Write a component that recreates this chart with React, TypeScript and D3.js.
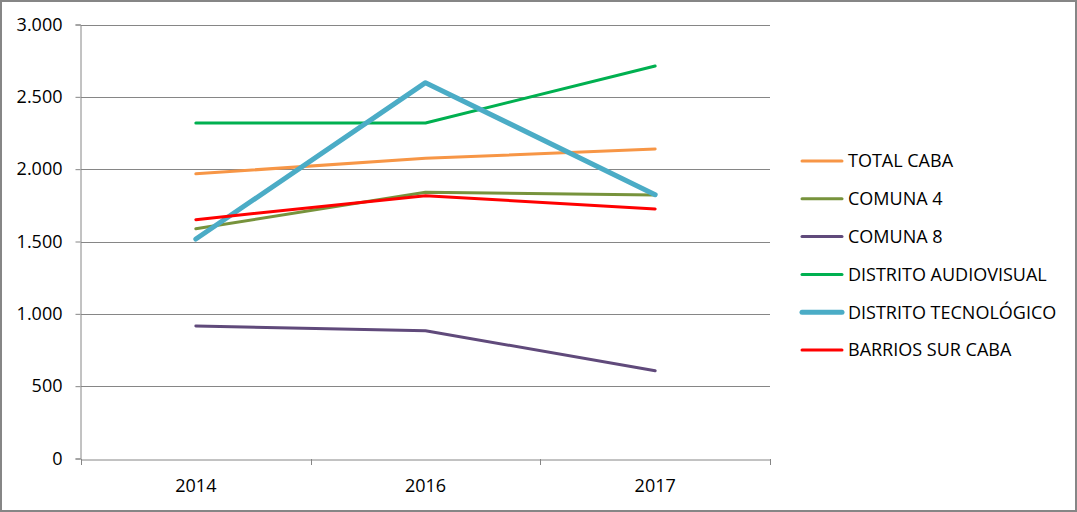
import { useEffect, useRef } from "react"
import * as d3 from "d3"

const years = ["2014", "2016", "2017"]
const seriesNames = [
  "TOTAL CABA",
  "COMUNA 4",
  "COMUNA 8",
  "DISTRITO AUDIOVISUAL",
  "DISTRITO TECNOLÓGICO",
  "BARRIOS SUR CABA",
]
const totalCaba = [1968, 2075, 2139]
const comuna4 = [1588, 1840, 1821]
const comuna8 = [916, 883, 607]
const distritoAudiovisual = [2319, 2319, 2713]
const distritoTecnologico = [1517, 2598, 1824]
const barriosSur = [1651, 1817, 1725]
const yTicks = [0, 500, 1000, 1500, 2000, 2500, 3000]

const colors = ["#F79646", "#77933C", "#604A7B", "#00B050", "#4BACC6", "#FF0000"]
const widths = [3, 3, 3, 3, 5, 3]

export default function App() {
  const svgRef = useRef<SVGSVGElement>(null)

  useEffect(() => {
    const width = 1077
    const height = 512
    const svg = d3.select(svgRef.current)
    svg.selectAll("*").remove()

    const margin = { top: 24.5, left: 81, right: 770, bottom: 458.5 }
    const font = "'Open Sans', 'Liberation Sans', sans-serif"

    // frame
    svg.append("rect").attr("width", width).attr("height", height).attr("fill", "#fff")
    svg.append("rect")
      .attr("x", 1).attr("y", 1)
      .attr("width", width - 2).attr("height", height - 2)
      .attr("fill", "none").attr("stroke", "#868686").attr("stroke-width", 2)

    const x = d3.scaleBand().domain(years).range([margin.left, margin.right])
    const y = d3.scaleLinear().domain([0, 3000]).range([margin.bottom, margin.top])

    // gridlines
    svg.append("g")
      .selectAll("line")
      .data(yTicks.filter((t) => t > 0))
      .join("line")
      .attr("x1", margin.left).attr("x2", margin.right)
      .attr("y1", (d) => Math.round(y(d)) + 0.5).attr("y2", (d) => Math.round(y(d)) + 0.5)
      .attr("stroke", "#868686")

    // y axis
    const yAxis = svg.append("g").attr("transform", `translate(${margin.left - 0.5},0)`)
      .call(d3.axisLeft(y).tickValues(yTicks).tickSize(5).tickPadding(13)
        .tickFormat((d) => d3.format(",")(d as number).replace(/,/g, ".")))
    yAxis.select(".domain").attr("stroke", "#868686")
    yAxis.selectAll(".tick line").attr("stroke", "#868686")
    yAxis.selectAll("text").attr("font-family", font).attr("font-size", 18).attr("fill", "#000")

    // x axis
    const xAxis = svg.append("g").attr("transform", `translate(0,${Math.round(margin.bottom) + 0.5})`)
      .call(d3.axisBottom(x).tickSize(0).tickPadding(20))
    xAxis.select(".domain").attr("stroke", "#868686")
    xAxis.selectAll("text").attr("font-family", font).attr("font-size", 18).attr("fill", "#000")
    svg.append("g")
      .selectAll("line")
      .data([...years.map((d) => x(d) as number), margin.right])
      .join("line")
      .attr("x1", (d) => Math.round(d) + 0.5).attr("x2", (d) => Math.round(d) + 0.5)
      .attr("y1", Math.round(margin.bottom)).attr("y2", Math.round(margin.bottom) + 6)
      .attr("stroke", "#868686")

    const data = [totalCaba, comuna4, comuna8, distritoAudiovisual, distritoTecnologico, barriosSur]
    const line = d3.line<number>()
      .x((_, i) => (x(years[i]) as number) + x.bandwidth() / 2)
      .y((d) => y(d))

    data.forEach((vals, i) => {
      svg.append("path")
        .datum(vals)
        .attr("fill", "none")
        .attr("stroke", colors[i])
        .attr("stroke-width", widths[i])
        .attr("stroke-linecap", "round")
        .attr("stroke-linejoin", "round")
        .attr("d", line)
    })

    // legend
    const legend = svg.append("g")
    seriesNames.forEach((name, i) => {
      const ly = 161 + i * 37.8
      legend.append("line")
        .attr("x1", 802).attr("x2", 842)
        .attr("y1", ly).attr("y2", ly)
        .attr("stroke", colors[i]).attr("stroke-width", widths[i])
        .attr("stroke-linecap", "round")
      legend.append("text")
        .attr("x", 848).attr("y", ly)
        .attr("dy", "0.35em")
        .attr("font-family", font).attr("font-size", 18)
        .attr("fill", "#000")
        .text(name)
    })
  }, [])

  return (
    <svg
      ref={svgRef}
      width={1077}
      height={512}
      style={{ position: "absolute", left: 0, top: 0 }}
    />
  )
}
